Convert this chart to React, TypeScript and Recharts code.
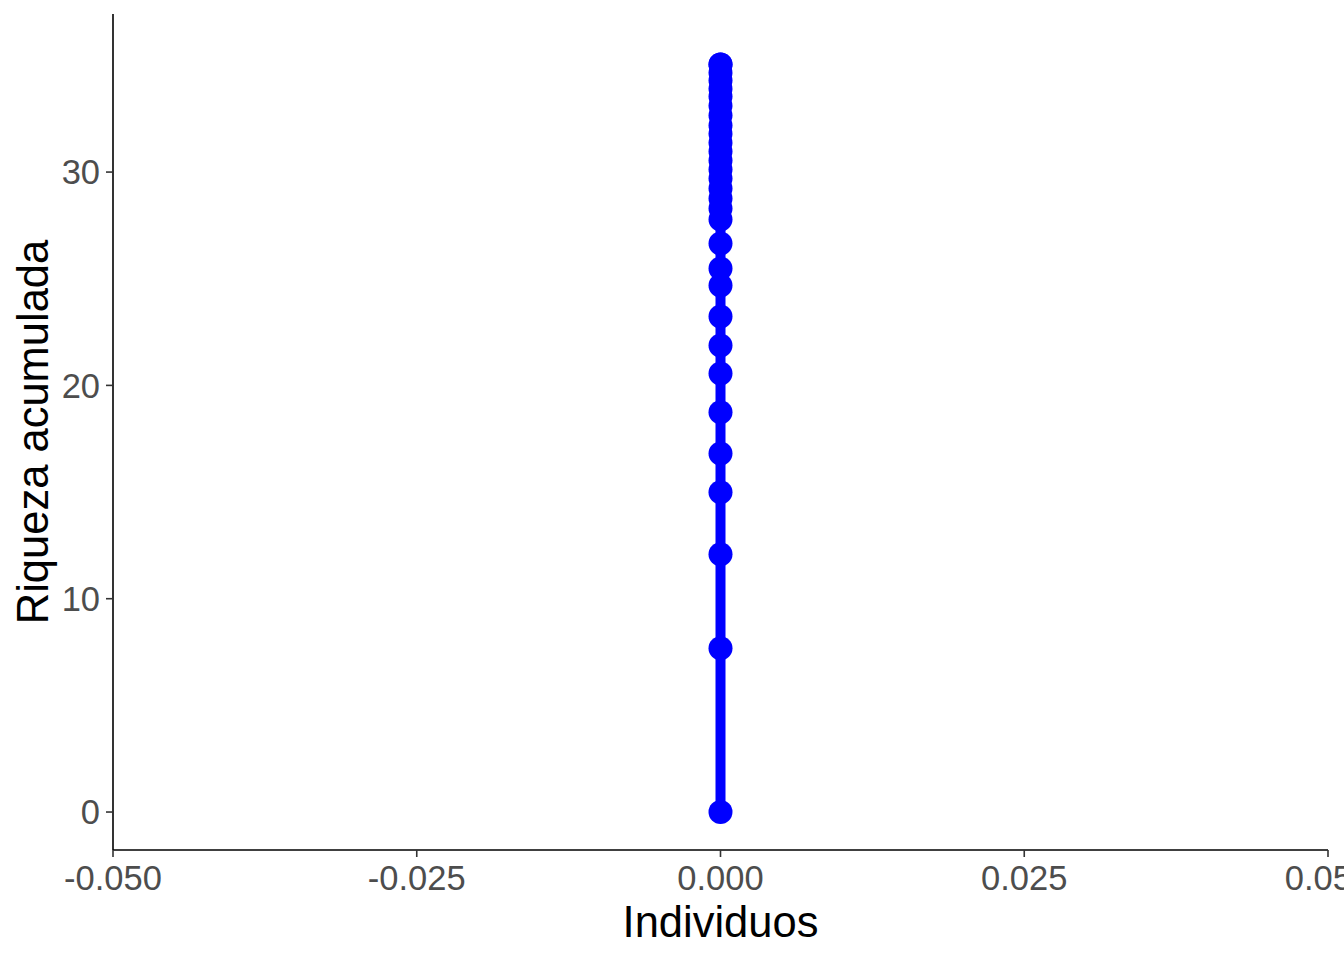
import { Line, LineChart, XAxis, YAxis } from "recharts";

// individuos (todos en 0) y riqueza acumulada
const individuos = [
  0, 0, 0, 0, 0, 0, 0, 0, 0, 0, 0, 0, 0, 0, 0, 0, 0, 0, 0, 0, 0, 0, 0, 0, 0, 0, 0, 0, 0, 0, 0,
];
const riqueza = [
  0, 7.68, 12.08, 14.99, 16.81, 18.74, 20.56, 21.87, 23.23, 24.68, 25.48, 26.65, 27.78, 28.29,
  28.76, 29.23, 29.7, 30.12, 30.54, 30.96, 31.38, 31.8, 32.18, 32.65, 33.11, 33.54, 33.91, 34.29,
  34.66, 35.04, 35.04,
];
const xTicks = [-0.05, -0.025, 0, 0.025, 0.05];
const yTicks = [0, 10, 20, 30];

const data = riqueza.map((r, i) => ({ x: individuos[i], y: r }));

const FONT = "Liberation Sans, Arial, sans-serif";

export default function App() {
  return (
    <div style={{ position: "absolute", left: 0, top: 0, width: 1344, height: 960, background: "#fff" }}>
      <LineChart
        width={1344}
        height={960}
        data={data}
        margin={{ top: 14, right: 16, left: 53, bottom: 10 }}
      >
        <XAxis
          type="number"
          dataKey="x"
          domain={[-0.05, 0.05]}
          ticks={xTicks}
          interval={0}
          allowDataOverflow
          height={100}
          tickSize={7}
          tickMargin={9}
          tickFormatter={(v: number) => v.toFixed(3)}
          tick={{ fill: "#4d4d4d", fontSize: 34.5, fontFamily: FONT }}
          tickLine={{ stroke: "#333333", strokeWidth: 1.6 }}
          axisLine={{ stroke: "#000000", strokeWidth: 1.6 }}
          label={{
            content: (props: any) => {
              const vb = props.viewBox;
              return (
                <text
                  x={vb.x + vb.width / 2}
                  y={vb.y + 87}
                  textAnchor="middle"
                  fill="#000"
                  fontSize={43.5}
                  fontFamily={FONT}
                >
                  Individuos
                </text>
              );
            },
          }}
        />
        <YAxis
          type="number"
          dataKey="y"
          domain={[-1.78, 37.41]}
          ticks={yTicks}
          interval={0}
          allowDataOverflow
          width={60}
          tickSize={7}
          tickMargin={6}
          tick={{ fill: "#4d4d4d", fontSize: 34.5, fontFamily: FONT }}
          tickLine={{ stroke: "#333333", strokeWidth: 1.6 }}
          axisLine={{ stroke: "#000000", strokeWidth: 1.6 }}
          label={{
            content: (props: any) => {
              const vb = props.viewBox;
              const cx = 33;
              const cy = vb.y + vb.height / 2;
              return (
                <text
                  x={cx}
                  y={cy}
                  transform={`rotate(-90, ${cx}, ${cy})`}
                  textAnchor="middle"
                  dominantBaseline="central"
                  fill="#000"
                  fontSize={43.5}
                  fontFamily={FONT}
                >
                  Riqueza acumulada
                </text>
              );
            },
          }}
        />
        <Line
          type="linear"
          dataKey="y"
          stroke="#0000ff"
          strokeWidth={10}
          dot={{ r: 12, fill: "#0000ff", stroke: "none" }}
          isAnimationActive={false}
        />
      </LineChart>
    </div>
  );
}
